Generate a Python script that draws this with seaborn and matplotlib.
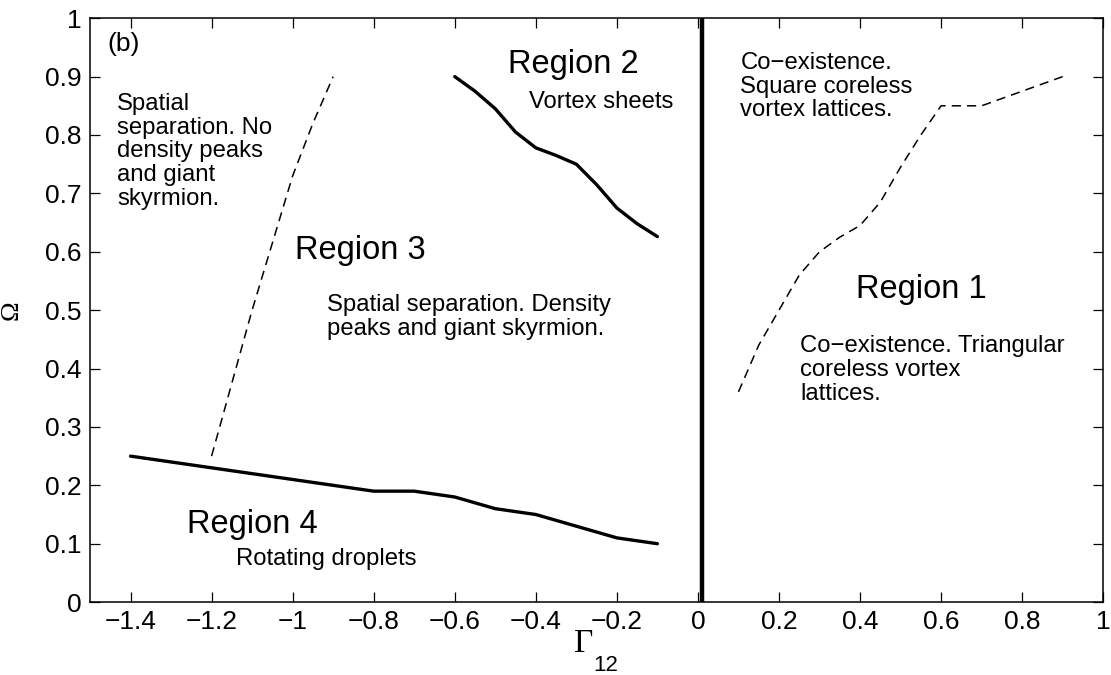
import matplotlib
matplotlib.use('Agg')
import matplotlib.pyplot as plt
import seaborn as sns
from matplotlib.ticker import FuncFormatter

# phase boundaries
r4_x = [-1.4, -1.3, -1.2, -1.1, -1.0, -0.9, -0.8, -0.7, -0.6, -0.5, -0.4, -0.3, -0.2, -0.1]
r4_y = [0.25, 0.24, 0.23, 0.22, 0.21, 0.20, 0.19, 0.19, 0.18, 0.16, 0.15, 0.13, 0.11, 0.10]

r2_x = [-0.6, -0.55, -0.5, -0.45, -0.4, -0.35, -0.3, -0.25, -0.2, -0.15, -0.1]
r2_y = [0.90, 0.875, 0.845, 0.805, 0.778, 0.765, 0.750, 0.715, 0.675, 0.648, 0.626]

r3_x = [-1.2, -1.1, -1.0, -0.95, -0.9]
r3_y = [0.25, 0.50, 0.73, 0.82, 0.90]

r1_x = [0.1, 0.15, 0.2, 0.25, 0.3, 0.35, 0.4, 0.45, 0.5, 0.55, 0.6, 0.7, 0.8, 0.9]
r1_y = [0.36, 0.44, 0.50, 0.56, 0.60, 0.625, 0.645, 0.685, 0.745, 0.80, 0.850, 0.850, 0.875, 0.90]

wall_x = [0.01, 0.01]
wall_y = [0.0, 1.0]

x_ticks = [-1.4, -1.2, -1.0, -0.8, -0.6, -0.4, -0.2, 0.0, 0.2, 0.4, 0.6, 0.8, 1.0]
y_ticks = [0.0, 0.1, 0.2, 0.3, 0.4, 0.5, 0.6, 0.7, 0.8, 0.9, 1.0]

sns.set_style('ticks')
plt.rcParams['font.family'] = ['Liberation Sans', 'DejaVu Sans']
plt.rcParams.update({
    'xtick.direction': 'in', 'ytick.direction': 'in',
    'text.color': 'black', 'axes.labelcolor': 'black',
    'xtick.color': 'black', 'ytick.color': 'black',
})

fig = plt.figure(figsize=(11.11, 6.75), dpi=100)
ax = fig.add_axes([0.081, 0.108, 0.912, 0.865])

solid = dict(color='black', lw=2.4, estimator=None)
dashed = dict(color='black', lw=1.1, ls=(0, (6, 4)), estimator=None)

sns.lineplot(x=r4_x, y=r4_y, ax=ax, **solid)
sns.lineplot(x=r2_x, y=r2_y, ax=ax, **solid)
sns.lineplot(x=r3_x, y=r3_y, ax=ax, **dashed)
sns.lineplot(x=r1_x, y=r1_y, ax=ax, **dashed)
sns.lineplot(x=wall_x, y=wall_y, ax=ax, color='black', lw=3.2, sort=False, estimator=None)

ax.set_xlim(-1.5, 1.0)
ax.set_ylim(0.0, 1.0)
ax.set_xticks(x_ticks)
ax.set_yticks(y_ticks)
fmt = FuncFormatter(lambda v, p: ('%g' % round(v, 2)).replace('-', '\u2212'))
ax.xaxis.set_major_formatter(fmt)
ax.yaxis.set_major_formatter(fmt)
ax.tick_params(labelsize=19, length=7, width=0.9, top=True, right=True, pad=6)
for s in ax.spines.values():
    s.set_linewidth(1.1)
    s.set_color('black')

ax.set_xlabel('')
ax.set_ylabel('\u03a9', family='Liberation Serif', fontsize=19)
ax.yaxis.set_label_coords(-0.066, 0.5)
ax.text(0.487, -0.072, '\u0393', transform=ax.transAxes, family='Liberation Serif',
        fontsize=24, ha='center', va='center')
ax.text(0.509, -0.108, '12', transform=ax.transAxes, fontsize=16, ha='center', va='center')

small = 17.2
big = 23.5
ax.text(-1.457, 0.955, '(b)', fontsize=19, va='center')
ax.text(-1.433, 0.872, 'Spatial\nseparation. No\ndensity peaks\nand giant\nskyrmion.',
        fontsize=small, va='top', linespacing=1.1)
ax.text(-0.994, 0.603, 'Region 3', fontsize=big, va='center')
ax.text(-0.915, 0.527, 'Spatial separation. Density\npeaks and giant skyrmion.',
        fontsize=small, va='top', linespacing=1.1)
ax.text(-0.468, 0.92, 'Region 2', fontsize=big, va='center')
ax.text(-0.418, 0.856, 'Vortex sheets', fontsize=small, va='center')
ax.text(0.105, 0.942, 'Co\u2212existence.\nSquare coreless\nvortex lattices.',
        fontsize=small, va='top', linespacing=1.1)
ax.text(0.389, 0.535, 'Region 1', fontsize=big, va='center')
ax.text(0.253, 0.457, 'Co\u2212existence. Triangular\ncoreless vortex\nlattices.',
        fontsize=small, va='top', linespacing=1.1)
ax.text(-1.26, 0.133, 'Region 4', fontsize=big, va='center')
ax.text(-1.14, 0.073, 'Rotating droplets', fontsize=small, va='center')

fig.savefig('out.png', dpi=100)
